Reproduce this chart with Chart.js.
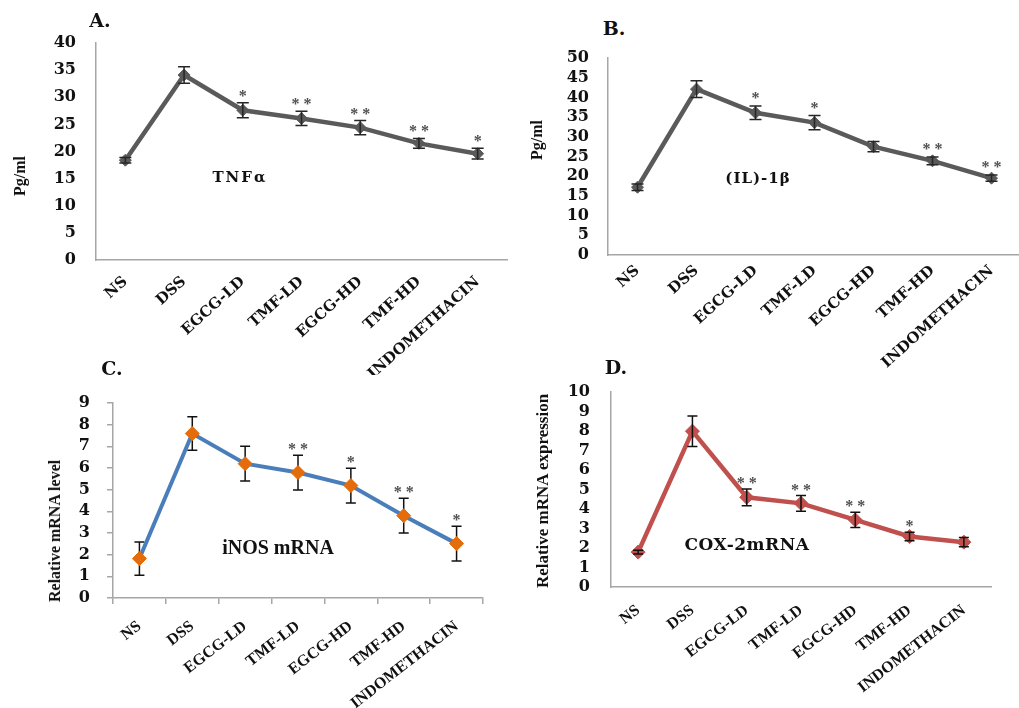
<!DOCTYPE html>
<html>
<head>
<meta charset="utf-8">
<script src="https://cdn.jsdelivr.net/npm/chart.js@4.4.1/dist/chart.umd.min.js"></script>
<style>
  html, body { margin: 0; padding: 0; background: #fff; }
  body { width: 1019px; height: 708px; position: relative; overflow: hidden; }
  canvas { position: absolute; }
  .txt { position: absolute; transform: translate(-50%, -50%); white-space: nowrap; color: #111; font-weight: bold; }
  .lbl { font-family: 'DejaVu Serif', serif; font-size: 19px; }
  .vt { position: absolute; transform: translate(-50%, -50%) rotate(-90deg); white-space: nowrap; color: #111;
        font-weight: bold; font-family: 'Liberation Serif', serif; font-size: 16px; }
</style>
</head>
<body>
<canvas id="cA"></canvas>
<canvas id="cB"></canvas>
<canvas id="cC"></canvas>
<canvas id="cD"></canvas>

<div class="txt lbl" style="left:100px;top:20px;">A.</div>
<div class="txt lbl" style="left:614px;top:28px;">B.</div>
<div class="txt lbl" style="left:112px;top:368px;">C.</div>
<div class="txt lbl" style="left:616px;top:367px;">D.</div>

<div class="vt" style="left:20px;top:176px;">Pg/ml</div>
<div class="vt" style="left:537px;top:140px;">Pg/ml</div>
<div class="vt" style="left:55px;top:531px;">Relative mRNA level</div>
<div class="vt" style="left:543px;top:491px;font-size:17px;">Relative mRNA expression</div>

<div class="txt" style="left:240px;top:177px;font-family:'DejaVu Serif';font-size:15px;letter-spacing:2px;">TNFα</div>
<div class="txt" style="left:758px;top:178px;font-family:'DejaVu Serif';font-size:15px;letter-spacing:1px;">(IL)-1β</div>
<div class="txt" style="left:278px;top:547px;font-family:'Liberation Serif';font-size:20px;">iNOS mRNA</div>
<div class="txt" style="left:747px;top:544px;font-family:'DejaVu Serif';font-size:17px;letter-spacing:0.5px;">COX-2mRNA</div>

<script>
// ---------- data ----------
const categories = ['NS', 'DSS', 'EGCG-LD', 'TMF-LD', 'EGCG-HD', 'TMF-HD', 'INDOMETHACIN'];

const tnfValues = [18.4, 34.1, 27.6, 26.1, 24.4, 21.5, 19.6];
const tnfErrors = [0.5, 1.5, 1.4, 1.3, 1.3, 0.9, 1.0];
const tnfSig    = ['', '', '*', '**', '**', '**', '*'];
const tnfTicks  = [0, 5, 10, 15, 20, 25, 30, 35, 40];

const il1bValues = [17.2, 42.1, 36.1, 33.6, 27.5, 23.9, 19.5];
const il1bErrors = [0.8, 2.1, 1.7, 1.8, 1.3, 1.0, 0.8];
const il1bSig    = ['', '', '*', '*', '', '**', '**'];
const il1bTicks  = [0, 5, 10, 15, 20, 25, 30, 35, 40, 45, 50];

const inosValues = [1.82, 7.59, 6.2, 5.79, 5.19, 3.8, 2.51];
const inosErrors = [0.77, 0.77, 0.8, 0.8, 0.8, 0.8, 0.8];
const inosSig    = ['', '', '', '**', '*', '**', '*'];
const inosTicks  = [0, 1, 2, 3, 4, 5, 6, 7, 8, 9];

const coxValues = [1.79, 7.99, 4.6, 4.29, 3.44, 2.59, 2.3];
const coxErrors = [0.1, 0.78, 0.43, 0.4, 0.39, 0.22, 0.24];
const coxSig    = ['', '', '**', '**', '**', '*', ''];
const coxTicks  = [0, 1, 2, 3, 4, 5, 6, 7, 8, 9, 10];

const SERIF_WIDE = '"DejaVu Serif", serif';
const SERIF_TIMES = '"Liberation Serif", serif';

// ---------- plugin: error bars + significance stars ----------
const errorBarPlugin = {
  id: 'errorBars',
  drawBars(chart, opts) {
    const { ctx } = chart;
    const xs = chart.scales.x, ys = chart.scales.y;
    const vals = chart.data.datasets[0].data;
    ctx.save();
    ctx.strokeStyle = opts.color;
    ctx.lineWidth = opts.lineWidth;
    const hw = opts.capWidth / 2;
    vals.forEach((v, i) => {
      const px = xs.getPixelForValue(i);
      const top = ys.getPixelForValue(v + opts.errors[i]);
      const bot = ys.getPixelForValue(v - opts.errors[i]);
      ctx.beginPath();
      ctx.moveTo(px, top); ctx.lineTo(px, bot);
      ctx.moveTo(px - hw, top); ctx.lineTo(px + hw, top);
      ctx.moveTo(px - hw, bot); ctx.lineTo(px + hw, bot);
      ctx.stroke();
    });
    ctx.restore();
  },
  beforeDatasetsDraw(chart, args, opts) {
    if (opts.order === 'before') this.drawBars(chart, opts);
  },
  afterDatasetsDraw(chart, args, opts) {
    if (opts.order !== 'before') this.drawBars(chart, opts);
    const { ctx } = chart;
    const xs = chart.scales.x, ys = chart.scales.y;
    const vals = chart.data.datasets[0].data;
    ctx.save();
    ctx.fillStyle = opts.starColor;
    ctx.font = 'bold 16px ' + SERIF_TIMES;
    ctx.textAlign = 'center';
    ctx.textBaseline = 'alphabetic';
    vals.forEach((v, i) => {
      const s = opts.sig[i];
      if (!s) return;
      const px = xs.getPixelForValue(i);
      const top = ys.getPixelForValue(v + opts.errors[i]);
      ctx.fillText(s.split('').join(' '), px, top - opts.starGap);
    });
    ctx.restore();
  }
};

function makeChart(id, p) {
  const cv = document.getElementById(id);
  cv.width = p.w; cv.height = p.h;
  cv.style.left = p.left + 'px'; cv.style.top = p.top + 'px';
  cv.style.width = p.w + 'px'; cv.style.height = p.h + 'px';
  return new Chart(cv, {
    type: 'line',
    data: {
      labels: categories,
      datasets: [{
        data: p.values,
        borderColor: p.lineColor,
        borderWidth: p.lineWidth,
        pointStyle: 'rectRot',
        pointRadius: p.pointRadius,
        pointBackgroundColor: p.pointColor,
        pointBorderColor: p.pointColor,
        pointBorderWidth: 1,
        tension: 0,
        fill: false
      }]
    },
    options: {
      responsive: false,
      animation: false,
      devicePixelRatio: 1,
      layout: { padding: { top: p.padTop, right: p.padRight, left: 0, bottom: 0 } },
      plugins: {
        legend: { display: false },
        tooltip: { enabled: false },
        errorBars: {
          errors: p.errors, sig: p.sig, color: p.errColor, lineWidth: p.errWidth,
          capWidth: p.capWidth, order: p.errOrder, starColor: '#505050', starGap: p.starGap
        }
      },
      scales: {
        x: {
          type: 'category',
          offset: true,
          border: { display: true, color: '#A6A6A6', width: 1.5 },
          grid: p.ticksMarks
            ? { display: true, drawOnChartArea: false, drawTicks: true, tickLength: 6, offset: true, color: '#A6A6A6', lineWidth: 1.5 }
            : { display: false, drawTicks: false },
          ticks: {
            autoSkip: false,
            minRotation: p.rot, maxRotation: p.rot,
            padding: p.xPad,
            color: '#111',
            font: { family: p.xFont, size: p.xSize, weight: 'bold' }
          },
          afterFit(s) { s.height = p.xHeight; s.paddingLeft = 0; s.paddingRight = 0; }
        },
        y: {
          min: p.ticks[0], max: p.ticks[p.ticks.length - 1],
          border: { display: true, color: '#A6A6A6', width: 1.5 },
          grid: p.ticksMarks
            ? { display: true, drawOnChartArea: false, drawTicks: true, tickLength: 6, color: '#A6A6A6', lineWidth: 1.5 }
            : { display: false, drawTicks: false },
          ticks: {
            autoSkip: false,
            padding: p.yPad,
            color: '#111',
            font: { family: SERIF_WIDE, size: 16, weight: 'bold' }
          },
          afterBuildTicks(s) { s.ticks = p.ticks.map(v => ({ value: v })); },
          title: { display: false },
          afterFit(s) { s.width = p.yWidth; s.paddingTop = 0; s.paddingBottom = 0; }
        }
      }
    },
    plugins: [errorBarPlugin]
  });
}

makeChart('cA', {
  left: 0, top: 28, w: 515, h: 347, padTop: 15, padRight: 8,
  yWidth: 96, xHeight: 115, yPad: 20, xPad: 13, rot: 42,
  xFont: SERIF_WIDE, xSize: 15, ticksMarks: false,
  values: tnfValues, errors: tnfErrors, sig: tnfSig, ticks: tnfTicks,
  lineColor: '#5A5A5A', pointColor: '#5A5A5A', lineWidth: 4.5, pointRadius: 6,
  errColor: '#262626', errWidth: 1.5, capWidth: 12, errOrder: 'after', starGap: 2
});

makeChart('cB', {
  left: 515, top: 43, w: 513, h: 327, padTop: 15, padRight: 0,
  yWidth: 93, xHeight: 115, yPad: 19, xPad: 7, rot: 42,
  xFont: SERIF_WIDE, xSize: 15, ticksMarks: false,
  values: il1bValues, errors: il1bErrors, sig: il1bSig, ticks: il1bTicks,
  lineColor: '#5A5A5A', pointColor: '#5A5A5A', lineWidth: 4.5, pointRadius: 6,
  errColor: '#262626', errWidth: 1.5, capWidth: 12, errOrder: 'after', starGap: 3
});

makeChart('cC', {
  left: 30, top: 388, w: 463, h: 320, padTop: 15, padRight: 10,
  yWidth: 83, xHeight: 110, yPad: 17, xPad: 13, rot: 38,
  xFont: SERIF_TIMES, xSize: 16, ticksMarks: true,
  values: inosValues, errors: inosErrors, sig: inosSig, ticks: inosTicks,
  lineColor: '#4A7EBB', pointColor: '#E46C0A', lineWidth: 4, pointRadius: 7,
  errColor: '#111', errWidth: 1.5, capWidth: 10, errOrder: 'before', starGap: 1
});

makeChart('cD', {
  left: 515, top: 377, w: 486, h: 331, padTop: 15, padRight: 10,
  yWidth: 96, xHeight: 121, yPad: 21, xPad: 14, rot: 38,
  xFont: SERIF_TIMES, xSize: 16, ticksMarks: false,
  values: coxValues, errors: coxErrors, sig: coxSig, ticks: coxTicks,
  lineColor: '#C0504D', pointColor: '#C0504D', lineWidth: 4.5, pointRadius: 7,
  errColor: '#111', errWidth: 1.5, capWidth: 10, errOrder: 'after', starGap: 1
});
</script>
</body>
</html>
